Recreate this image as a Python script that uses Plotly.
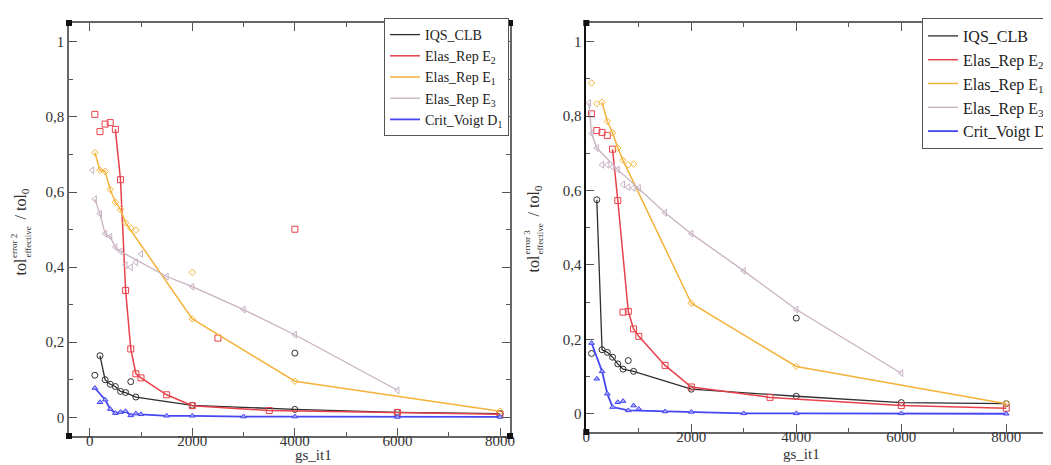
import plotly.graph_objects as go

# ---------------- data (left panel: error 2) ----------------
L_IQS_line_x = [200, 300, 400, 500, 600, 700, 900, 2000, 4000, 6000, 8000]
L_IQS_line_y = [0.164, 0.100, 0.088, 0.082, 0.069, 0.066, 0.054, 0.032, 0.021, 0.013, 0.010]
L_IQS_pts_x = [100, 800, 4000]
L_IQS_pts_y = [0.112, 0.095, 0.171]

L_E2_line_x = [500, 600, 700, 800, 900, 1000, 1500, 2000, 3500, 6000, 8000]
L_E2_line_y = [0.767, 0.633, 0.338, 0.182, 0.116, 0.105, 0.060, 0.031, 0.018, 0.013, 0.008]
L_E2_pts_x = [100, 200, 300, 400, 2500, 4000]
L_E2_pts_y = [0.807, 0.761, 0.781, 0.785, 0.211, 0.501]

L_E1_line_x = [100, 200, 300, 400, 500, 600, 700, 2000, 4000, 8000]
L_E1_line_y = [0.705, 0.658, 0.655, 0.607, 0.573, 0.553, 0.518, 0.262, 0.096, 0.016]
L_E1_pts_x = [800, 900, 2000]
L_E1_pts_y = [0.504, 0.499, 0.386]

L_E3_line_x = [100, 200, 300, 400, 500, 600, 1500, 2000, 3000, 4000, 6000]
L_E3_line_y = [0.581, 0.542, 0.489, 0.481, 0.453, 0.442, 0.375, 0.348, 0.287, 0.220, 0.072]
L_E3_pts_x = [50, 700, 800, 900, 1000]
L_E3_pts_y = [0.658, 0.405, 0.400, 0.413, 0.435]

L_D1_line_x = [100, 300, 400, 500, 600, 700, 800, 900, 1000, 1500, 2000, 3000, 4000, 6000, 8000]
L_D1_line_y = [0.078, 0.047, 0.022, 0.011, 0.014, 0.016, 0.005, 0.010, 0.008, 0.004, 0.004, 0.002, 0.002, 0.001, 0.001]
L_D1_pts_x = [200]
L_D1_pts_y = [0.040]

# ---------------- data (right panel: error 3) ----------------
R_IQS_line_x = [200, 300, 400, 500, 600, 700, 900, 2000, 4000, 6000, 8000]
R_IQS_line_y = [0.575, 0.172, 0.165, 0.152, 0.134, 0.120, 0.114, 0.066, 0.047, 0.030, 0.027]
R_IQS_pts_x = [100, 800, 4000]
R_IQS_pts_y = [0.162, 0.143, 0.257]

R_E2_line_x = [500, 600, 800, 900, 1000, 1500, 2000, 3500, 6000, 8000]
R_E2_line_y = [0.711, 0.573, 0.275, 0.228, 0.208, 0.130, 0.072, 0.044, 0.022, 0.015]
R_E2_pts_x = [100, 200, 300, 400, 700]
R_E2_pts_y = [0.806, 0.761, 0.756, 0.748, 0.273]

R_E1_line_x = [300, 400, 500, 600, 700, 2000, 4000, 8000]
R_E1_line_y = [0.837, 0.786, 0.755, 0.714, 0.681, 0.297, 0.127, 0.027]
R_E1_pts_x = [100, 200, 800, 900]
R_E1_pts_y = [0.889, 0.833, 0.669, 0.671]

R_E3_line_x = [50, 100, 200, 600, 1500, 2000, 3000, 4000, 6000]
R_E3_line_y = [0.835, 0.753, 0.714, 0.656, 0.540, 0.484, 0.384, 0.280, 0.109]
R_E3_pts_x = [300, 400, 500, 700, 800, 900, 1000]
R_E3_pts_y = [0.669, 0.669, 0.663, 0.616, 0.609, 0.607, 0.607]

R_D1_line_x = [100, 300, 400, 500, 800, 1500, 2000, 3000, 4000, 6000, 8000]
R_D1_line_y = [0.190, 0.114, 0.054, 0.018, 0.009, 0.006, 0.005, 0.001, 0.001, 0.001, 0.000]
R_D1_pts_x = [200, 600, 700, 900, 1000]
R_D1_pts_y = [0.094, 0.031, 0.034, 0.022, 0.013]

series_names = ["IQS_CLB", "Elas_Rep E<sub>2</sub>", "Elas_Rep E<sub>1</sub>",
                "Elas_Rep E<sub>3</sub>", "Crit_Voigt D<sub>1</sub>"]
y_tick_vals = [0, 0.2, 0.4, 0.6, 0.8, 1]
y_tick_text = ["0", "0,2", "0,4", "0,6", "0,8", "1"]
x_tick_vals = [0, 2000, 4000, 6000, 8000]
x_tick_text = ["0", "2000", "4000", "6000", "8000"]

# ---------------- styles ----------------
colors = ["#2e2e2e", "#e8404a", "#f4b23a", "#c8b2c2", "#4646f2"]
widths = [1.3, 1.5, 1.5, 1.3, 1.8]
symbols = ["circle-open", "square-open", "diamond-open", "triangle-left-open", "triangle-up"]
msizes = [6, 6, 5, 6, 5]
mfill = ["rgba(0,0,0,0)", "rgba(0,0,0,0)", "rgba(0,0,0,0)", "rgba(0,0,0,0)", "#a8a8fa"]
FONT = "Liberation Serif"
W, H = 1051, 465

left = dict(
    line=[(L_IQS_line_x, L_IQS_line_y), (L_E2_line_x, L_E2_line_y), (L_E1_line_x, L_E1_line_y),
          (L_E3_line_x, L_E3_line_y), (L_D1_line_x, L_D1_line_y)],
    pts=[(L_IQS_pts_x, L_IQS_pts_y), (L_E2_pts_x, L_E2_pts_y), (L_E1_pts_x, L_E1_pts_y),
         (L_E3_pts_x, L_E3_pts_y), (L_D1_pts_x, L_D1_pts_y)],
)
right = dict(
    line=[(R_IQS_line_x, R_IQS_line_y), (R_E2_line_x, R_E2_line_y), (R_E1_line_x, R_E1_line_y),
          (R_E3_line_x, R_E3_line_y), (R_D1_line_x, R_D1_line_y)],
    pts=[(R_IQS_pts_x, R_IQS_pts_y), (R_E2_pts_x, R_E2_pts_y), (R_E1_pts_x, R_E1_pts_y),
         (R_E3_pts_x, R_E3_pts_y), (R_D1_pts_x, R_D1_pts_y)],
)

fig = go.Figure()

for panel, xa, ya, leg in [(left, "x", "y", "legend"), (right, "x2", "y2", "legend2")]:
    for i in range(5):
        lx, ly = panel["line"][i]
        px, py = panel["pts"][i]
        if i == 4:
            mk = dict(symbol=symbols[i], size=msizes[i], color=mfill[i], line=dict(color=colors[i], width=1))
        else:
            mk = dict(symbol=symbols[i], size=msizes[i], color=colors[i], line=dict(color=colors[i], width=1))
        fig.add_trace(go.Scatter(x=lx, y=ly, mode="lines+markers", xaxis=xa, yaxis=ya,
                                 line=dict(color=colors[i], width=widths[i]), marker=mk,
                                 showlegend=False, hoverinfo="x+y"))
        fig.add_trace(go.Scatter(x=px, y=py, mode="markers", xaxis=xa, yaxis=ya,
                                 marker=mk, showlegend=False, hoverinfo="x+y"))
    for i in range(5):
        fig.add_trace(go.Scatter(x=[None], y=[None], mode="lines", xaxis=xa, yaxis=ya,
                                 line=dict(color=colors[i], width=widths[i]),
                                 name=series_names[i], legend=leg, showlegend=True))


def px2x(p):
    return p / W


def px2y(p):
    return (H - p) / H


axis_common = dict(
    showgrid=False, zeroline=False, showline=True, mirror="ticks", linecolor="#666",
    linewidth=1.5, ticks="inside", ticklen=8, tickwidth=1.2, tickcolor="#555",
    tickfont=dict(family=FONT, size=15, color="#333"), automargin=False,
)

fig.update_layout(
    width=W, height=H, margin=dict(l=0, r=0, t=0, b=0),
    paper_bgcolor="white", plot_bgcolor="white",
    xaxis=dict(domain=[px2x(61), px2x(502)], range=[-404, 8195], anchor="y",
               tickvals=x_tick_vals, ticktext=x_tick_text, ticklabelstandoff=-10,
               minor=dict(ticks="inside", dtick=1000, tick0=0, ticklen=4, tickcolor="#555"),
               **axis_common),
    yaxis=dict(domain=[px2y(428), px2y(15)], range=[-0.0498, 1.0503], anchor="x",
               tickvals=y_tick_vals, ticktext=y_tick_text,
               minor=dict(ticks="inside", dtick=0.1, tick0=0, ticklen=4, tickcolor="#555"),
               **axis_common),
    xaxis2=dict(domain=[px2x(578.3), px2x(1050)], range=[0, 8985], anchor="y2",
                tickvals=x_tick_vals, ticktext=x_tick_text, ticklabelstandoff=-10,
                minor=dict(ticks="inside", dtick=1000, tick0=0, ticklen=4, tickcolor="#555"),
                **axis_common),
    yaxis2=dict(domain=[px2y(424), px2y(15)], range=[-0.049, 1.050], anchor="x2",
                tickvals=y_tick_vals, ticktext=y_tick_text,
                minor=dict(ticks="inside", dtick=0.1, tick0=0, ticklen=4, tickcolor="#555"),
                **axis_common),
    legend=dict(x=px2x(501), y=px2y(10), xanchor="right", yanchor="top",
                bgcolor="white", bordercolor="#555", borderwidth=1,
                font=dict(family=FONT, size=14, color="#222"), tracegroupgap=0,
                itemwidth=30),
    legend2=dict(x=px2x(1050), y=px2y(10), xanchor="right", yanchor="top",
                 bgcolor="white", bordercolor="#555", borderwidth=1,
                 font=dict(family=FONT, size=16, color="#222"), tracegroupgap=0,
                 itemwidth=30),
)
fig.update_yaxes(linecolor="#111", selector=dict(anchor="x2"))

anns = []
# x titles
anns.append(dict(text="gs_it1", x=px2x(285), y=px2y(457), xref="paper", yref="paper",
                 showarrow=False, font=dict(family=FONT, size=15, color="#333")))
anns.append(dict(text="gs_it1", x=px2x(814), y=px2y(456), xref="paper", yref="paper",
                 showarrow=False, font=dict(family=FONT, size=15, color="#333")))


def ytitle(cx, bottom, sup):
    out = []
    f_big = dict(family=FONT, size=16, color="#333")
    f_small = dict(family=FONT, size=9, color="#333")
    out.append(dict(text="tol", x=px2x(cx), y=px2y(bottom), xanchor="center", yanchor="bottom",
                    textangle=-90, showarrow=False, font=f_big, xref="paper", yref="paper"))
    out.append(dict(text=sup, x=px2x(cx - 6), y=px2y(bottom - 18), xanchor="center", yanchor="bottom",
                    textangle=-90, showarrow=False, font=f_small, xref="paper", yref="paper"))
    out.append(dict(text="effective", x=px2x(cx + 7), y=px2y(bottom - 18), xanchor="center",
                    yanchor="bottom", textangle=-90, showarrow=False, font=f_small,
                    xref="paper", yref="paper"))
    out.append(dict(text="/ tol<sub>0</sub>", x=px2x(cx + 1), y=px2y(bottom - 56), xanchor="center",
                    yanchor="bottom", textangle=-90, showarrow=False, font=f_big,
                    xref="paper", yref="paper"))
    return out


anns += ytitle(12, 270, "error 2")
anns += ytitle(525, 267, "error 3")
fig.update_layout(annotations=anns)

# small grace-style corner handles
shapes = []
for (cx, cy) in [(61, 15), (502, 15), (61, 428), (502, 428), (578.3, 15), (578.3, 424)]:
    shapes.append(dict(type="rect", xref="paper", yref="paper",
                       x0=px2x(cx - 3), x1=px2x(cx + 3), y0=px2y(cy + 3), y1=px2y(cy - 3),
                       fillcolor="#111", line=dict(width=0)))
fig.update_layout(shapes=shapes)

fig.write_html("out.html")
